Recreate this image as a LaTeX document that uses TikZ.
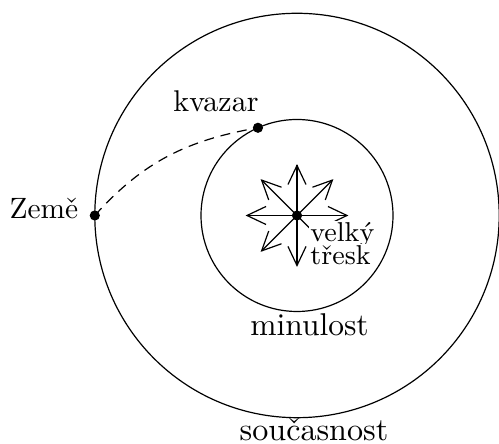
\documentclass[tikz,border=0pt]{standalone}
\usetikzlibrary{calc}
\begin{document}
\begin{tikzpicture}[x=0.33333pt,y=-0.33333pt,
  thinline/.style={line width=0.4pt},
  dot/.style={circle,fill=black,inner sep=0pt,minimum size=3.4pt},
  lbl/.style={inner sep=0pt},
  boxlbl/.style={inner sep=0.6pt,fill=white}]
\useasboundingbox (0,0) rectangle (499,444);
% circles
\coordinate (c) at (297,215.5);
\draw[thinline] (c) circle[radius=67.4pt];
\draw[thinline] (c) circle[radius=32pt];
% star: eight rays with open barbed heads
\foreach \a in {0,45,...,315}{
  \draw[thinline] (c) -- ($(c)+(\a:16.67pt)$);
  \draw[thinline] ($(c)+(\a+16.2:10.76pt)$) -- ($(c)+(\a:16.67pt)$) -- ($(c)+(\a-16.2:10.76pt)$);
}
% points
\node[dot] (bang) at (c) {};
\node[dot] (earth) at ($(c)+(180:67.4pt)$) {};
\node[dot] (quasar) at ($(c)+(114:32pt)$) {};
\draw[thinline,dash pattern=on 3.3pt off 2.3pt] (earth.center) to[out=48,in=190] (quasar.center);
% labels
\node[lbl,anchor=base] (kvazar) at (216,111.5) {\fontsize{10}{12}\selectfont kvazar};
\node[lbl,anchor=base] (zeme) at (44,218.3) {\fontsize{9.8}{12}\selectfont Země};
\node[boxlbl,anchor=base west] (velky) at (308,241.7) {\fontsize{9.1}{11}\selectfont velký};
\node[boxlbl,anchor=base west] (tresk) at (308,264.3) {\fontsize{9.1}{11}\selectfont třesk};
\node[lbl,anchor=base] (minulost) at (309.5,336) {\fontsize{10.5}{12}\selectfont minulost};
\node[lbl,anchor=base] (soucasnost) at (314,441) {\fontsize{10.7}{12}\selectfont současnost};
\end{tikzpicture}
\end{document}
